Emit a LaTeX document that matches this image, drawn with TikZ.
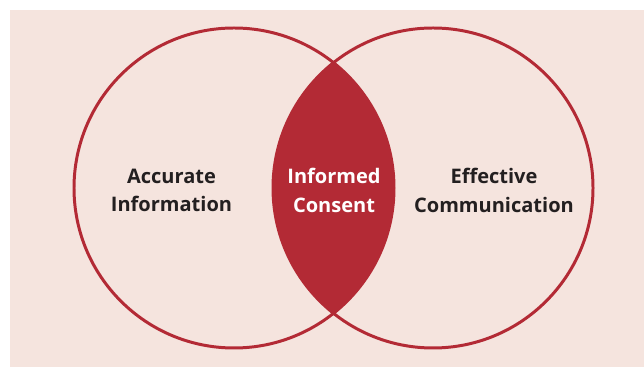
\documentclass[tikz,border=0pt]{standalone}
\usepackage{fontspec}
\setmainfont{Open Sans}
\definecolor{bgpink}{HTML}{F5E4DE}
\definecolor{vennred}{HTML}{B32A35}
\definecolor{textdark}{HTML}{231F20}
\tikzset{
  ring/.style={draw=vennred, line width=1.7pt},
  label/.style={align=center, font=\fontsize{11.4}{16.4}\selectfont\bfseries, text=textdark}
}
\begin{document}
\begin{tikzpicture}
        \useasboundingbox (0,0) rectangle (12.88,7.34);
        \fill[bgpink] (0.2,0) rectangle (12.88,7.14);
        \coordinate (cl) at (4.68, 3.58);
        \coordinate (cr) at (8.66, 3.58);
        \begin{scope}
          \clip (cl) circle (3.2);
          \fill[vennred] (cr) circle (3.2);
        \end{scope}
        \draw[ring] (cl) circle (3.2);
        \draw[ring] (cr) circle (3.2);
        \node[label] (info) at (3.43, 3.53) {Accurate\\Information};
        \node[label, text=white] (consent) at (6.68, 3.53) {Informed\\Consent};
        \node[label] (comm) at (9.88, 3.53) {Effective\\Communication};
\end{tikzpicture}
\end{document}
